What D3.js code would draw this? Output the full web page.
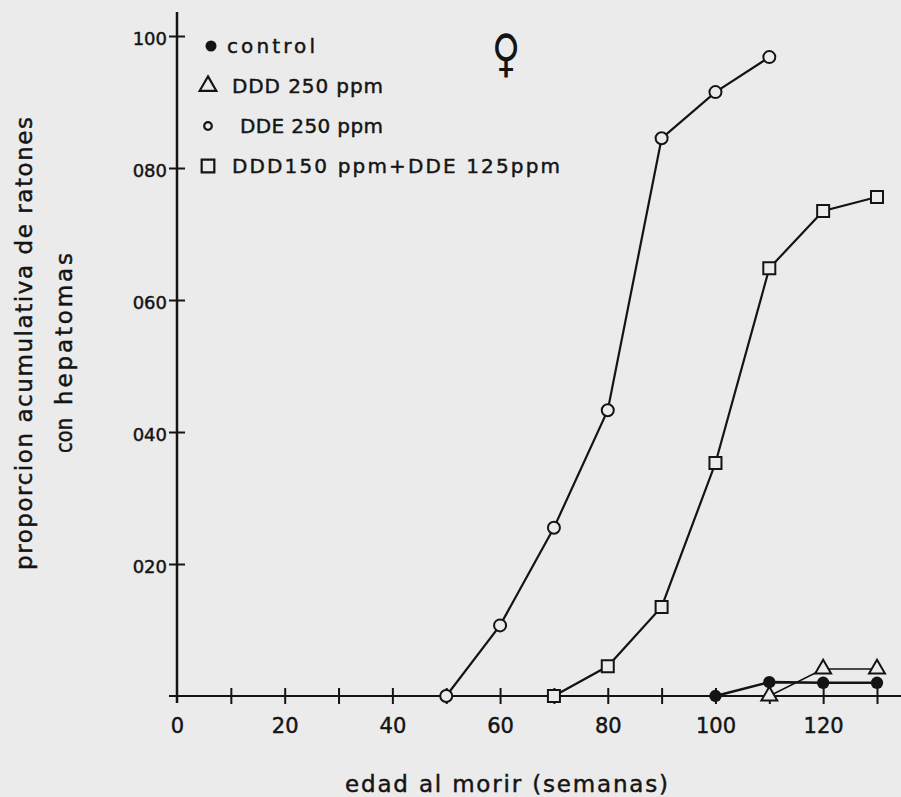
<!DOCTYPE html>
<html>
<head>
<meta charset="utf-8">
<script src="https://cdn.jsdelivr.net/npm/d3@7"></script>
<style>
	body{margin:0;background:#ebebeb;}
	svg{display:block;font-family:"DejaVu Sans",sans-serif;}
	svg text{fill:#141414;stroke:#141414;stroke-width:0.45px;}
	.tick line{stroke:#141414;stroke-width:2;}
</style>
</head>
<body>
<svg class="mainChart" width="901" height="797"></svg>
<script>
// semanas
var controlWeeks = [100, 110, 120, 130];
var controlValues = [0, 0.021, 0.020, 0.020];

var ddd250Weeks = [110, 120, 130];
var ddd250Values = [0, 0.041, 0.041];

var dde250Weeks = [50, 60, 70, 80, 90, 100, 110];
var dde250Values = [0, 0.107, 0.255, 0.433, 0.845, 0.915, 0.968];

var mixWeeks = [70, 80, 90, 100, 110, 120, 130];
var mixValues = [0, 0.045, 0.135, 0.353, 0.648, 0.735, 0.756];

var xTickValues = [0, 20, 40, 60, 80, 100, 120];
var xTickLabels = ["0", "20", "40", "60", "80", "100", "120"];
var xMinorTicks = [10, 20, 30, 40, 50, 60, 70, 80, 90, 100, 110, 120, 130];
var yTickValues = [0.2, 0.4, 0.6, 0.8, 1.0];
var yTickLabels = ["020", "040", "060", "080", "100"];

var legendLabels = ["control", "DDD 250 ppm", "DDE 250 ppm", "DDD150 ppm+DDE  125ppm"];

var ink = "#141414";
var paper = "#ebebeb";

var svg = d3.select(".mainChart");

var x = d3.scaleLinear().domain([0, 130]).range([177, 877]);
var y = d3.scaleLinear().domain([0, 1]).range([696, 36]);

// ejes
svg.append("line")
	.attr("x1", x(0)).attr("x2", x(0))
	.attr("y1", 12).attr("y2", y(0) + 7)
	.attr("stroke", ink).attr("stroke-width", 2.5);
svg.append("line")
	.attr("x1", x(0) - 8).attr("x2", 901)
	.attr("y1", y(0)).attr("y2", y(0))
	.attr("stroke", ink).attr("stroke-width", 2.2);

// marcas en cruz
[d3.axisBottom, d3.axisTop].forEach(function(ax){
	var g = svg.append("g")
		.attr("transform", "translate(0," + y(0) + ")")
		.call(ax(x).tickValues(xMinorTicks).tickSize(8).tickFormat(""));
	g.select(".domain").remove();
});
[d3.axisLeft, d3.axisRight].forEach(function(ax){
	var g = svg.append("g")
		.attr("transform", "translate(" + x(0) + ",0)")
		.call(ax(y).tickValues(yTickValues).tickSize(8).tickFormat(""));
	g.select(".domain").remove();
});

var xLab = svg.append("g")
	.attr("transform", "translate(0," + y(0) + ")")
	.call(d3.axisBottom(x).tickValues(xTickValues).tickSize(0).tickPadding(22)
		.tickFormat(function(d, i){ return xTickLabels[i]; }));
xLab.select(".domain").remove();
xLab.selectAll("text").attr("font-size", 21).attr("font-family", "DejaVu Sans");

var yLab = svg.append("g")
	.attr("transform", "translate(" + x(0) + ",0)")
	.call(d3.axisLeft(y).tickValues(yTickValues).tickSize(0).tickPadding(10)
		.tickFormat(function(d, i){ return yTickLabels[i]; }));
yLab.select(".domain").remove();
yLab.selectAll("text").attr("font-size", 18).attr("dy", "0.45em")
	.attr("font-family", "DejaVu Sans");

// titulos
svg.append("text")
	.attr("x", 345).attr("y", 792)
	.attr("font-size", 23)
	.attr("textLength", 323).attr("lengthAdjust", "spacing")
	.text("edad al morir (semanas)");

svg.append("text")
	.attr("transform", "translate(32,570) rotate(-90)")
	.attr("font-size", 23)
	.attr("textLength", 453).attr("lengthAdjust", "spacing")
	.text("proporcion acumulativa de ratones");
svg.append("text")
	.attr("transform", "translate(72,453) rotate(-90)")
	.attr("font-size", 23)
	.attr("textLength", 35).attr("lengthAdjust", "spacingAndGlyphs")
	.text("con");
svg.append("text")
	.attr("transform", "translate(72,405) rotate(-90)")
	.attr("font-size", 23)
	.attr("textLength", 152).attr("lengthAdjust", "spacing")
	.text("hepatomas");

svg.append("text")
	.attr("transform", "translate(506,71) scale(0.85,1.12)")
	.attr("text-anchor", "middle")
	.attr("font-size", 46)
	.style("stroke-width", "0px")
	.text("♀");

// series
function toPoints(weeks, values){
	return weeks.map(function(w, i){ return {w: w, v: values[i]}; });
}
var series = [
	{pts: toPoints(mixWeeks, mixValues), shape: d3.symbolSquare, size: 144, filled: false, width: 2.2},
	{pts: toPoints(dde250Weeks, dde250Values), shape: d3.symbolCircle, size: 113, filled: false, width: 2.2},
	{pts: toPoints(ddd250Weeks, ddd250Values), shape: d3.symbolTriangle, size: 110, filled: false, width: 1.6},
	{pts: toPoints(controlWeeks, controlValues), shape: d3.symbolCircle, size: 120, filled: true, width: 2.6}
];

var line = d3.line()
	.x(function(d){ return x(d.w); })
	.y(function(d){ return y(d.v); });

series.forEach(function(s){
	svg.append("path")
		.attr("d", line(s.pts))
		.attr("fill", "none")
		.attr("stroke", ink)
		.attr("stroke-width", s.width);
});
series.forEach(function(s){
	svg.selectAll(null)
		.data(s.pts)
		.enter().append("path")
		.attr("d", d3.symbol().type(s.shape).size(s.size))
		.attr("transform", function(d){ return "translate(" + x(d.w) + "," + y(d.v) + ")"; })
		.attr("fill", s.filled ? ink : paper)
		.attr("stroke", ink)
		.attr("stroke-width", s.filled ? 0 : 2);
});

// leyenda
var legendShapes = [
	{shape: d3.symbolCircle, size: 95, filled: true},
	{shape: d3.symbolTriangle, size: 120, filled: false},
	{shape: d3.symbolCircle, size: 45, filled: false},
	{shape: d3.symbolSquare, size: 160, filled: false}
];
var legendWidths = [88, 151, 143, 328];
var legend = svg.append("g").attr("class", "legend");
legendLabels.forEach(function(label, i){
	var cy = 46 + i * 40;
	legend.append("path")
		.attr("d", d3.symbol().type(legendShapes[i].shape).size(legendShapes[i].size))
		.attr("transform", "translate(" + (i == 0 ? 211 : 208) + "," + cy + ")")
		.attr("fill", legendShapes[i].filled ? ink : "none")
		.attr("stroke", ink)
		.attr("stroke-width", legendShapes[i].filled ? 0 : 2.2);
	legend.append("text")
		.attr("x", i == 0 ? 227 : (i == 2 ? 240 : 232))
		.attr("y", cy + 7)
		.attr("font-size", 20)
		.attr("textLength", legendWidths[i])
		.attr("lengthAdjust", "spacing")
		.text(label);
});
</script>
</body>
</html>
